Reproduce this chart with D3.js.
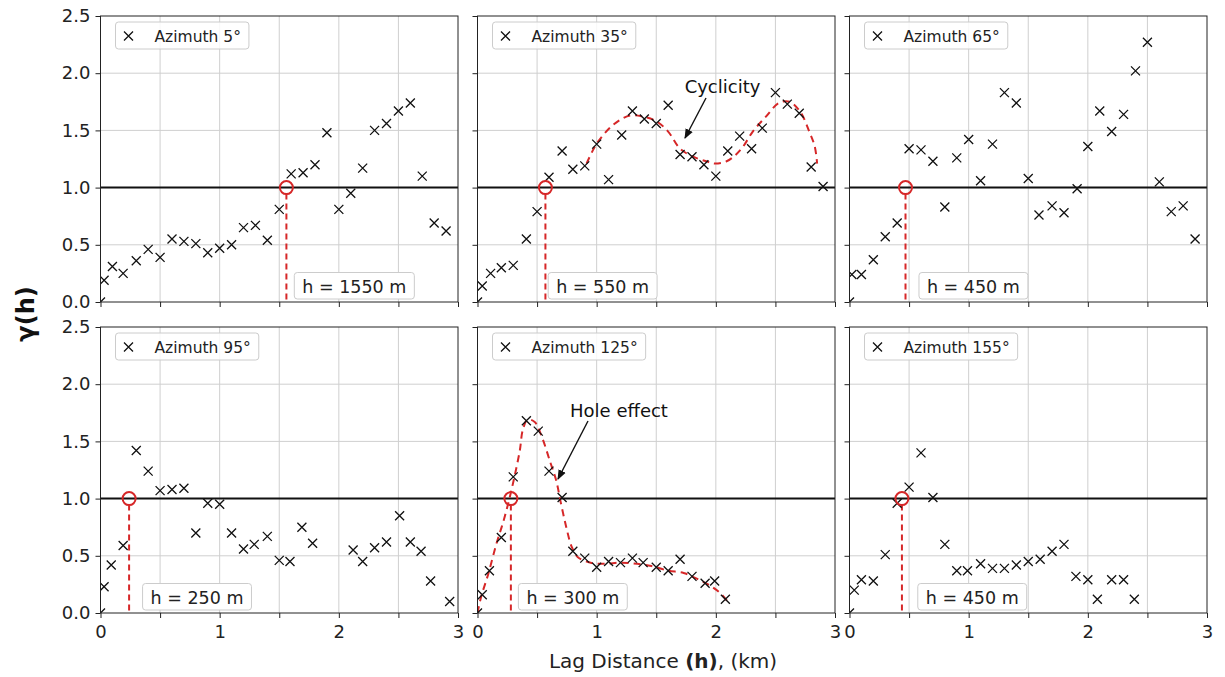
<!DOCTYPE html>
<html>
<head>
<meta charset="utf-8">
<script src="https://cdn.jsdelivr.net/npm/d3@7"></script>
<style>
body { margin: 0; background: #fff; }
text { font-family: "DejaVu Sans", sans-serif; }
</style>
</head>
<body>
<div id="chart"></div>
<script>
// lag distance (km) and semivariogram value for each azimuth
const azimuths = [5, 35, 65, 95, 125, 155];

const lag5 = [0, 0.03, 0.1, 0.19, 0.3, 0.4, 0.5, 0.6, 0.7, 0.8, 0.9, 1.0, 1.1, 1.2, 1.3, 1.4, 1.5, 1.6, 1.7, 1.8, 1.9, 2.0, 2.1, 2.2, 2.3, 2.4, 2.5, 2.6, 2.7, 2.8, 2.9];
const gamma5 = [0, 0.19, 0.31, 0.25, 0.36, 0.46, 0.39, 0.55, 0.53, 0.51, 0.43, 0.47, 0.5, 0.65, 0.67, 0.54, 0.81, 1.12, 1.13, 1.2, 1.48, 0.81, 0.95, 1.17, 1.5, 1.56, 1.67, 1.74, 1.1, 0.69, 0.62];

const lag35 = [0, 0.04, 0.11, 0.2, 0.3, 0.41, 0.5, 0.6, 0.71, 0.8, 0.9, 1.0, 1.1, 1.21, 1.3, 1.4, 1.5, 1.6, 1.7, 1.8, 1.9, 2.0, 2.1, 2.2, 2.3, 2.39, 2.5, 2.6, 2.7, 2.8, 2.9];
const gamma35 = [0, 0.14, 0.25, 0.3, 0.32, 0.55, 0.79, 1.09, 1.32, 1.16, 1.19, 1.38, 1.07, 1.46, 1.67, 1.6, 1.56, 1.72, 1.29, 1.27, 1.2, 1.1, 1.32, 1.45, 1.34, 1.52, 1.83, 1.73, 1.65, 1.18, 1.01];

const lag65 = [0, 0.02, 0.1, 0.2, 0.3, 0.4, 0.5, 0.6, 0.7, 0.8, 0.9, 1.0, 1.1, 1.2, 1.3, 1.4, 1.5, 1.59, 1.7, 1.8, 1.91, 2.0, 2.1, 2.2, 2.3, 2.4, 2.5, 2.6, 2.7, 2.8, 2.9];
const gamma65 = [0, 0.24, 0.24, 0.37, 0.57, 0.69, 1.34, 1.33, 1.23, 0.83, 1.26, 1.42, 1.06, 1.38, 1.83, 1.74, 1.08, 0.76, 0.84, 0.78, 0.99, 1.36, 1.67, 1.49, 1.64, 2.02, 2.27, 1.05, 0.79, 0.84, 0.55];

const lag95 = [0, 0.03, 0.09, 0.19, 0.3, 0.4, 0.5, 0.6, 0.7, 0.8, 0.9, 1.0, 1.1, 1.2, 1.29, 1.4, 1.5, 1.59, 1.69, 1.78, 2.12, 2.2, 2.3, 2.4, 2.51, 2.6, 2.69, 2.77, 2.93];
const gamma95 = [0, 0.23, 0.42, 0.59, 1.42, 1.24, 1.07, 1.08, 1.09, 0.7, 0.96, 0.95, 0.7, 0.56, 0.6, 0.67, 0.46, 0.45, 0.75, 0.61, 0.55, 0.45, 0.57, 0.62, 0.85, 0.62, 0.54, 0.28, 0.1];

const lag125 = [0, 0.04, 0.1, 0.2, 0.3, 0.41, 0.51, 0.6, 0.71, 0.8, 0.9, 1.0, 1.1, 1.2, 1.3, 1.39, 1.5, 1.6, 1.7, 1.8, 1.91, 1.99, 2.08];
const gamma125 = [0, 0.16, 0.37, 0.66, 1.19, 1.68, 1.59, 1.24, 1.01, 0.54, 0.48, 0.4, 0.45, 0.44, 0.48, 0.44, 0.4, 0.37, 0.47, 0.32, 0.26, 0.28, 0.12];

const lag155 = [0, 0.04, 0.1, 0.2, 0.3, 0.4, 0.5, 0.6, 0.7, 0.8, 0.9, 0.99, 1.1, 1.2, 1.3, 1.4, 1.5, 1.6, 1.7, 1.8, 1.9, 2.0, 2.08, 2.2, 2.3, 2.39];
const gamma155 = [0, 0.2, 0.29, 0.28, 0.51, 0.96, 1.1, 1.4, 1.01, 0.6, 0.37, 0.37, 0.43, 0.39, 0.39, 0.42, 0.45, 0.47, 0.54, 0.6, 0.32, 0.29, 0.12, 0.29, 0.29, 0.12];

const lags = [lag5, lag35, lag65, lag95, lag125, lag155];
const gammas = [gamma5, gamma35, gamma65, gamma95, gamma125, gamma155];

// range where gamma reaches sill 1.0
const rangeKm = [1.56, 0.57, 0.47, 0.24, 0.28, 0.44];
const rangeText = ["h = 1550 m", "h = 550 m", "h = 450 m", "h = 250 m", "h = 300 m", "h = 450 m"];

// hand fitted dashed curves
const cycleX = [0.915, 0.97, 1.01, 1.14, 1.28, 1.39, 1.5, 1.6, 1.7, 1.81, 1.92, 1.99, 2.09, 2.17, 2.23, 2.31, 2.42, 2.53, 2.62, 2.71, 2.78, 2.83, 2.85];
const cycleY = [1.21, 1.33, 1.4, 1.55, 1.63, 1.62, 1.58, 1.49, 1.34, 1.27, 1.23, 1.21, 1.23, 1.29, 1.36, 1.49, 1.62, 1.74, 1.75, 1.66, 1.5, 1.36, 1.21];
const holeX = [0, 0.03, 0.09, 0.16, 0.22, 0.27, 0.31, 0.355, 0.38, 0.42, 0.48, 0.54, 0.61, 0.66, 0.7, 0.745, 0.79, 0.84, 0.95, 1.07, 1.2, 1.34, 1.46, 1.6, 1.73, 1.84, 1.95, 2.03, 2.1];
const holeY = [0, 0.14, 0.34, 0.61, 0.81, 1.01, 1.19, 1.42, 1.6, 1.69, 1.67, 1.54, 1.32, 1.16, 0.96, 0.75, 0.58, 0.49, 0.44, 0.43, 0.44, 0.43, 0.41, 0.37, 0.35, 0.3, 0.24, 0.18, 0.1];

const xTicks = [0, 0.5, 1, 1.5, 2, 2.5, 3];
const yTicks = [0, 0.5, 1, 1.5, 2, 2.5];

// layout
const width = 1225, height = 677;
const colX = [100.5, 477.5, 849.5], rowY = [16, 327];
const pw = 357.5, ph = 286;
const boxCenter = [2.13, 1.05, 1.04, 0.81, 0.8, 1.03];
const red = "#d62728";

const svg = d3.select("#chart").append("svg")
    .attr("width", width)
    .attr("height", height);

const defs = svg.append("defs");
defs.append("marker")
    .attr("id", "arrow")
    .attr("viewBox", "0 0 10 10")
    .attr("refX", 9).attr("refY", 5)
    .attr("markerWidth", 10).attr("markerHeight", 10)
    .attr("markerUnits", "userSpaceOnUse")
    .attr("orient", "auto")
    .append("path").attr("d", "M0,1L10,5L0,9Z").attr("fill", "#111");

const x = d3.scaleLinear().domain([0, 3]).range([0, pw]);
const y = d3.scaleLinear().domain([0, 2.5]).range([ph, 0]);
const cross = "M-4.5,-4.5L4.5,4.5M4.5,-4.5L-4.5,4.5";

azimuths.forEach((az, i) => {
    const col = i % 3, row = Math.floor(i / 3);
    const g = svg.append("g").attr("transform", `translate(${colX[col]},${rowY[row]})`);

    defs.append("clipPath").attr("id", "clip" + i)
        .append("rect").attr("width", pw).attr("height", ph);

    // grid
    g.selectAll(".gx").data(xTicks.slice(1, -1)).enter().append("line")
        .attr("x1", d => x(d)).attr("x2", d => x(d))
        .attr("y1", 0).attr("y2", ph)
        .attr("stroke", "#cfcfcf").attr("stroke-width", 1);
    g.selectAll(".gy").data(yTicks.slice(1, -1)).enter().append("line")
        .attr("y1", d => y(d)).attr("y2", d => y(d))
        .attr("x1", 0).attr("x2", pw)
        .attr("stroke", "#cfcfcf").attr("stroke-width", 1);

    // axes
    const ax = g.append("g").attr("transform", `translate(0,${ph})`)
        .call(d3.axisBottom(x).tickValues(xTicks).tickSize(5).tickPadding(7)
            .tickFormat(d => (row === 1 && Number.isInteger(d)) ? d : ""));
    const ay = g.append("g")
        .call(d3.axisLeft(y).tickValues(yTicks).tickSize(5).tickPadding(5)
            .tickFormat(d => col === 0 ? d3.format(".1f")(d) : ""));
    [ax, ay].forEach(a => {
        a.select(".domain").remove();
        a.selectAll("line").attr("stroke", "#222");
        a.selectAll("text").attr("font-size", 18).attr("fill", "#222")
            .attr("font-family", "DejaVu Sans");
    });

    const plot = g.append("g").attr("clip-path", `url(#clip${i})`);

    // sill
    plot.append("line")
        .attr("x1", 0).attr("x2", pw)
        .attr("y1", y(1)).attr("y2", y(1))
        .attr("stroke", "#111").attr("stroke-width", 2);

    // fitted curves
    if (i === 1 || i === 4) {
        const cx = i === 1 ? cycleX : holeX, cy = i === 1 ? cycleY : holeY;
        const line = d3.line().x(d => x(d[0])).y(d => y(d[1])).curve(d3.curveCatmullRom);
        plot.append("path")
            .attr("d", line(cx.map((v, k) => [v, cy[k]])))
            .attr("fill", "none").attr("stroke", red)
            .attr("stroke-width", 2).attr("stroke-dasharray", "7,5");
    }

    // range marker
    plot.append("line")
        .attr("x1", x(rangeKm[i])).attr("x2", x(rangeKm[i]))
        .attr("y1", y(1) + 6).attr("y2", ph)
        .attr("stroke", red).attr("stroke-width", 2).attr("stroke-dasharray", "6,4");

    // data points
    plot.selectAll(".pt").data(lags[i].map((v, k) => [v, gammas[i][k]])).enter().append("path")
        .attr("transform", d => `translate(${x(d[0])},${y(d[1])})`)
        .attr("d", cross)
        .attr("stroke", "#111").attr("stroke-width", 1.3).attr("fill", "none");

    plot.append("circle")
        .attr("cx", x(rangeKm[i])).attr("cy", y(1)).attr("r", 6.5)
        .attr("fill", "none").attr("stroke", red).attr("stroke-width", 2);

    // frame
    g.append("rect").attr("width", pw).attr("height", ph)
        .attr("fill", "none").attr("stroke", "#222").attr("stroke-width", 1);

    // legend
    const lg = g.append("g").attr("transform", "translate(15,6)");
    const lbox = lg.append("rect").attr("height", 27).attr("rx", 3)
        .attr("fill", "#fff").attr("fill-opacity", 0.85)
        .attr("stroke", "#cccccc").attr("stroke-width", 1);
    lg.append("path").attr("d", cross).attr("transform", "translate(13,14)")
        .attr("stroke", "#111").attr("stroke-width", 1.3);
    const lt = lg.append("text").attr("x", 39).attr("y", 19.5)
        .attr("font-family", "Open Sans").attr("font-size", 15.5).attr("fill", "#222")
        .text(`Azimuth ${az}°`);
    lbox.attr("width", 39 + lt.node().getComputedTextLength() + 8);

    // range label box
    const hb = g.append("g");
    const ht = hb.append("text")
        .attr("x", x(boxCenter[i])).attr("y", ph - 9)
        .attr("text-anchor", "middle")
        .attr("font-family", "Open Sans").attr("font-size", 17.5).attr("fill", "#222")
        .text(rangeText[i]);
    const tw = ht.node().getComputedTextLength();
    hb.insert("rect", "text")
        .attr("x", x(boxCenter[i]) - tw / 2 - 8).attr("width", tw + 16)
        .attr("y", ph - 29.5).attr("height", 26.5).attr("rx", 3)
        .attr("fill", "#fff").attr("stroke", "#cccccc").attr("stroke-width", 1);
});

// annotations
function note(txt, tx, ty, x1, y1, x2, y2) {
    svg.append("text").attr("x", tx).attr("y", ty)
        .attr("text-anchor", "middle")
        .attr("font-family", "Open Sans").attr("font-size", 18).attr("fill", "#111")
        .text(txt);
    svg.append("line")
        .attr("x1", x1).attr("y1", y1).attr("x2", x2).attr("y2", y2)
        .attr("stroke", "#111").attr("stroke-width", 1.4)
        .attr("marker-end", "url(#arrow)");
}
note("Cyclicity", 722.5, 93, 706, 98, 685, 138);
note("Hole effect", 619, 417, 588, 421, 558, 479);

// axis titles
const xt = svg.append("text").attr("x", 663).attr("y", 668)
    .attr("text-anchor", "middle").attr("font-size", 20).attr("fill", "#222");
xt.append("tspan").text("Lag Distance ");
xt.append("tspan").attr("font-weight", "bold").text("(h)");
xt.append("tspan").text(", (km)");

svg.append("text")
    .attr("transform", "translate(34,314) rotate(-90)")
    .attr("text-anchor", "middle").attr("font-size", 24)
    .attr("font-weight", "bold").attr("fill", "#111")
    .text("γ(h)");
</script>
</body>
</html>
